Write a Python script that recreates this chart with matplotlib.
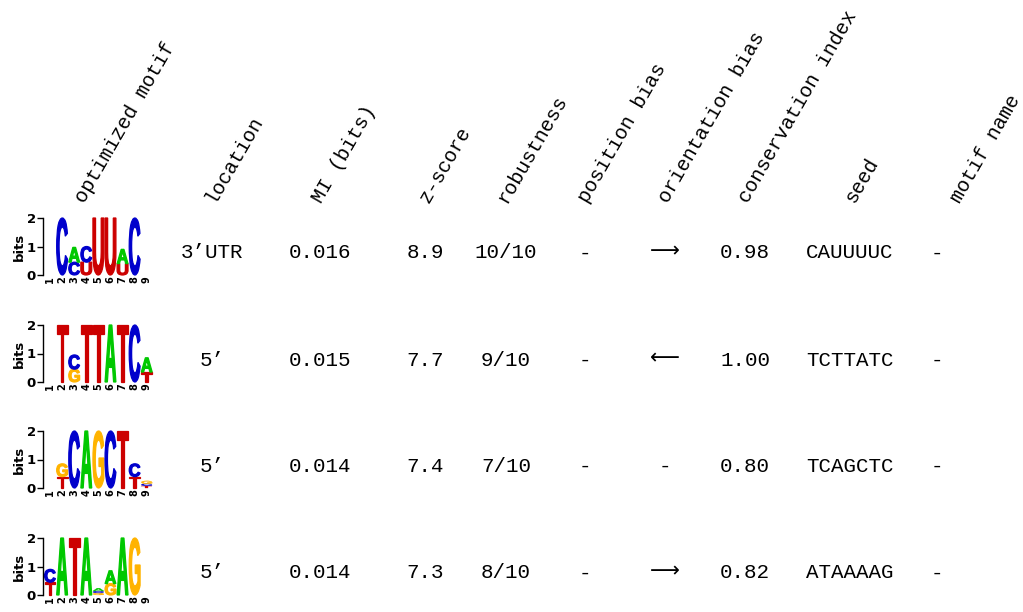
import numpy as np
import matplotlib
matplotlib.use("Agg")
import matplotlib.pyplot as plt
from matplotlib.textpath import TextPath
from matplotlib.patches import PathPatch
from matplotlib.font_manager import FontProperties
from matplotlib.transforms import Affine2D

# column headers
headers = ["optimized motif", "location", "MI (bits)", "z-score", "robustness",
           "position bias", "orientation bias", "conservation index", "seed", "motif name"]

# table values (one entry per motif)
location = ["3\u2019UTR", "5\u2019", "5\u2019", "5\u2019"]
mi_bits = ["0.016", "0.015", "0.014", "0.014"]
z_score = ["8.9", "7.7", "7.4", "7.3"]
robustness = ["10/10", "9/10", "7/10", "8/10"]
position_bias = ["-", "-", "-", "-"]
orientation_bias = ["\u27f6", "\u27f5", "-", "\u27f6"]
conservation = ["0.98", "1.00", "0.80", "0.82"]
seed = ["CAUUUUC", "TCTTATC", "TCAGCTC", "ATAAAAG"]
motif_name = ["-", "-", "-", "-"]

# logos: per position, letters stacked bottom -> top with height in bits
logo1 = [[], [("C", 2.0)], [("C", 0.45), ("A", 0.52)], [("U", 0.45), ("C", 0.55)],
         [("U", 2.0)], [("U", 2.0)], [("U", 0.4), ("A", 0.5)], [("C", 2.0)], []]
logo2 = [[], [("T", 2.0)], [("G", 0.45), ("C", 0.5)], [("T", 2.0)], [("T", 2.0)],
         [("A", 2.0)], [("T", 2.0)], [("C", 2.0)], [("T", 0.35), ("A", 0.5)]]
logo3 = [[], [("T", 0.4), ("G", 0.45)], [("C", 2.0)], [("A", 2.0)], [("G", 2.0)],
         [("C", 2.0)], [("T", 2.0)], [("T", 0.4), ("C", 0.45)],
         [("T", 0.08), ("C", 0.07), ("G", 0.1)]]
logo4 = [[("T", 0.45), ("C", 0.45)], [("A", 2.0)], [("T", 2.0)], [("A", 2.0)],
         [("G", 0.07), ("C", 0.07), ("A", 0.1)], [("G", 0.4), ("A", 0.45)],
         [("A", 2.0)], [("G", 2.0)], []]
logos = [logo1, logo2, logo3, logo4]

colors = {"A": "#00C800", "C": "#0000CC", "G": "#FFB300", "T": "#CC0000", "U": "#CC0000"}
letter_font = FontProperties(family="Liberation Sans", weight="bold")
mono = "Liberation Mono"

W, H = 1023, 612
fig = plt.figure(figsize=(W / 100, H / 100), dpi=100)


def draw_letter(ax, ch, x, y, w, h):
    tp = TextPath((0, 0), ch, size=1, prop=letter_font)
    bb = tp.get_extents()
    tr = (Affine2D().translate(-bb.x0, -bb.y0)
          .scale(w / bb.width, h / bb.height)
          .translate(x - w / 2, y))
    lw = 0.9 if h > 0.2 else 0.2
    ax.add_patch(PathPatch(tr.transform_path(tp), fc=colors[ch], ec=colors[ch],
                           lw=lw, joinstyle="miter", clip_on=False))


row_zero = [275, 382, 488, 595]   # pixel y of 0 bits
ax_left, ax_w, ax_h = 43, 111, 57

for i, logo in enumerate(logos):
    y0 = row_zero[i]
    ax = fig.add_axes([ax_left / W, 1 - y0 / H, ax_w / W, ax_h / H])
    ax.set_xlim(0.42, 9.6)
    ax.set_ylim(0, 2)
    for pos, stack in enumerate(logo, start=1):
        base = 0
        for ch, hgt in stack:
            draw_letter(ax, ch, pos, base, 0.9, hgt)
            base += hgt
    for s in ["top", "right", "bottom"]:
        ax.spines[s].set_visible(False)
    ax.spines["left"].set_linewidth(1.0)
    ax.set_yticks([0, 1, 2])
    ax.set_yticklabels(["0", "1", "2"], fontsize=9.5, fontweight="bold")
    ax.tick_params(axis="y", length=4, width=1, pad=1)
    ax.set_xticks(range(1, 10))
    ax.set_xticklabels([str(k) for k in range(1, 10)], fontsize=7,
                       fontweight="bold", rotation=90)
    ax.tick_params(axis="x", length=0, pad=1)
    ax.set_ylabel("bits", fontsize=9.5, fontweight="bold", labelpad=1)

    # table text for this row
    yt = 1 - (y0 - 22) / H
    cols = [location, mi_bits, z_score, robustness, position_bias,
            orientation_bias, conservation, seed, motif_name]
    xs = [212, 320, 425, 506, 585, 665, 745, 850, 937]
    for vals, xc in zip(cols, xs):
        txt = vals[i]
        if txt in ("\u27f6", "\u27f5"):
            fig.text(xc / W, yt + 2 / H, txt, ha="center", va="center", fontsize=15,
                     family=["DejaVu Sans", "Noto Sans", "DejaVu Sans Mono"])
        else:
            fig.text(xc / W, yt, txt, ha="center", va="center", fontsize=15, family=mono)

# rotated headers
hx = [85, 214, 322, 429, 507, 588, 668, 748, 854, 960]
for name, x in zip(headers, hx):
    fig.text(x / W, 1 - 204 / H, name, rotation=60, rotation_mode="anchor",
             ha="left", va="baseline", fontsize=14.5, family=mono)

fig.savefig("out.png", dpi=100)
